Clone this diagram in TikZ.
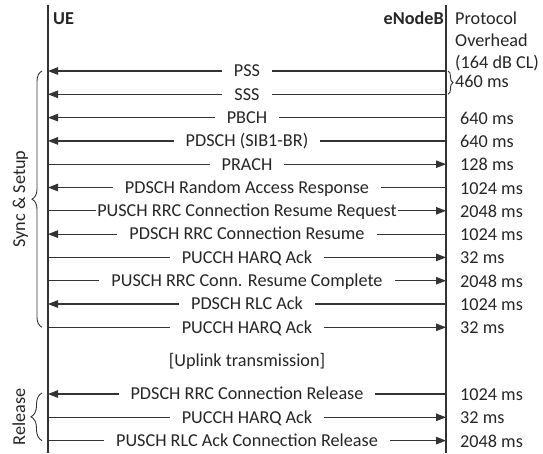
\documentclass[tikz,border=0pt]{standalone}
\usepackage{fontspec}
\setmainfont{Carlito}
\usetikzlibrary{arrows.meta,decorations.pathreplacing}
\definecolor{ink}{HTML}{262626}
\definecolor{linec}{HTML}{333333}
\tikzset{
  lifeline/.style={line width=1.2pt, draw=linec},
  msg/.style={line width=1.2pt, draw=linec, -{Triangle[length=10pt,width=7.5pt]}},
  lbl/.style={fill=white, text=ink, inner xsep=12pt, inner ysep=2pt,
              text height=11.7pt, text depth=0pt},
  dur/.style={anchor=base west, inner sep=0pt, text=ink},
  head/.style={inner sep=0pt, text=ink, font=\fontsize{18.2}{22}\selectfont\bfseries},
  phase/.style={rotate=90, anchor=base, inner sep=0pt, text=ink},
  curly/.style={decorate, line width=0.9pt, draw=linec},
}
\begin{document}
\begin{tikzpicture}[x=1pt, y=-1pt, font=\fontsize{18.2}{22}\selectfont]
\useasboundingbox (0,0) rectangle (543,453);

% lifelines
\coordinate (ueTop) at (48,5);
\coordinate (ueBot) at (48,453);
\coordinate (enbTop) at (446,5);
\coordinate (enbBot) at (446,453);
\draw[lifeline] (ueTop) -- (ueBot);
\draw[lifeline] (enbTop) -- (enbBot);

% headers
\node[head, anchor=base west] (ue) at (53,24) {UE};
\node[head, anchor=base east] (enb) at (444,24) {eNodeB};
\node[dur] (oh1) at (455,24.5) {Protocol};
\node[dur] (oh2) at (455,46.5) {Overhead};
\node[dur] (oh3) at (455,68.5) {(164 dB CL)};

% message rows on both lifelines
\foreach \i/\y in {1/71,2/94.3,3/117.6,4/140.9,5/164.2,6/187.5,7/210.8,8/234.1,
                   9/257.4,10/280.7,11/304,12/327.3,13/394,14/417.3,15/440.6}{
  \coordinate (u\i) at (48,\y);
  \coordinate (e\i) at (446,\y);
}

% sync & setup
\draw[msg] (e1) -- (u1) node[midway, lbl] {PSS};
\draw[msg] (e2) -- (u2) node[midway, lbl] {SSS};
\draw[msg] (e3) -- (u3) node[midway, lbl] {PBCH};
\draw[msg] (e4) -- (u4) node[midway, lbl] {PDSCH (SIB1-BR)};
\draw[msg] (u5) -- (e5) node[midway, lbl] {PRACH};
\draw[msg] (e6) -- (u6) node[midway, lbl] {PDSCH Random Access Response};
\draw[msg] (u7) -- (e7) node[midway, lbl, inner xsep=1.5pt] {PUSCH RRC Connection Resume Request};
\draw[msg] (e8) -- (u8) node[midway, lbl] {PDSCH RRC Connection Resume};
\draw[msg] (u9) -- (e9) node[midway, lbl] {PUCCH HARQ Ack};
\draw[msg] (u10) -- (e10) node[midway, lbl] {PUSCH RRC Conn. Resume Complete};
\draw[msg] (e11) -- (u11) node[midway, lbl] {PDSCH RLC Ack};
\draw[msg] (u12) -- (e12) node[midway, lbl] {PUCCH HARQ Ack};

\node[inner sep=0pt, text=ink, anchor=base] (ul) at (247,366.5) {[Uplink transmission]};

% release
\draw[msg] (e13) -- (u13) node[midway, lbl] {PDSCH RRC Connection Release};
\draw[msg] (u14) -- (e14) node[midway, lbl] {PUCCH HARQ Ack};
\draw[msg] (u15) -- (e15) node[midway, lbl] {PUSCH RLC Ack Connection Release};

% overhead per message
\coordinate (bt) at (448,71);
\coordinate (bb) at (448,94.3);
\draw[curly, decoration={brace, amplitude=5pt}] (bt) -- (bb);
\node[dur] (t12) at (455,87.5) {460 ms};
\foreach \i/\t in {3/640,4/640,5/128,6/1024,7/2048,8/1024,9/32,10/2048,11/1024,
                   12/32,13/1024,14/32,15/2048}{
  \node[dur] (t\i) at ([shift={(14pt,-6.5pt)}]e\i) {\t\ ms};
}

% phase braces
\coordinate (sTop) at (42,71);
\coordinate (sBot) at (42,327.3);
\draw[curly, decoration={brace, amplitude=10pt}] (sBot) -- (sTop);
\node[phase] (sync) at (25,199) {Sync \& Setup};
\coordinate (rTop) at (42,393);
\coordinate (rBot) at (42,440.6);
\draw[curly, decoration={brace, amplitude=11pt}] (rBot) -- (rTop);
\node[phase] (rel) at (25,416.8) {Release};
\end{tikzpicture}
\end{document}
